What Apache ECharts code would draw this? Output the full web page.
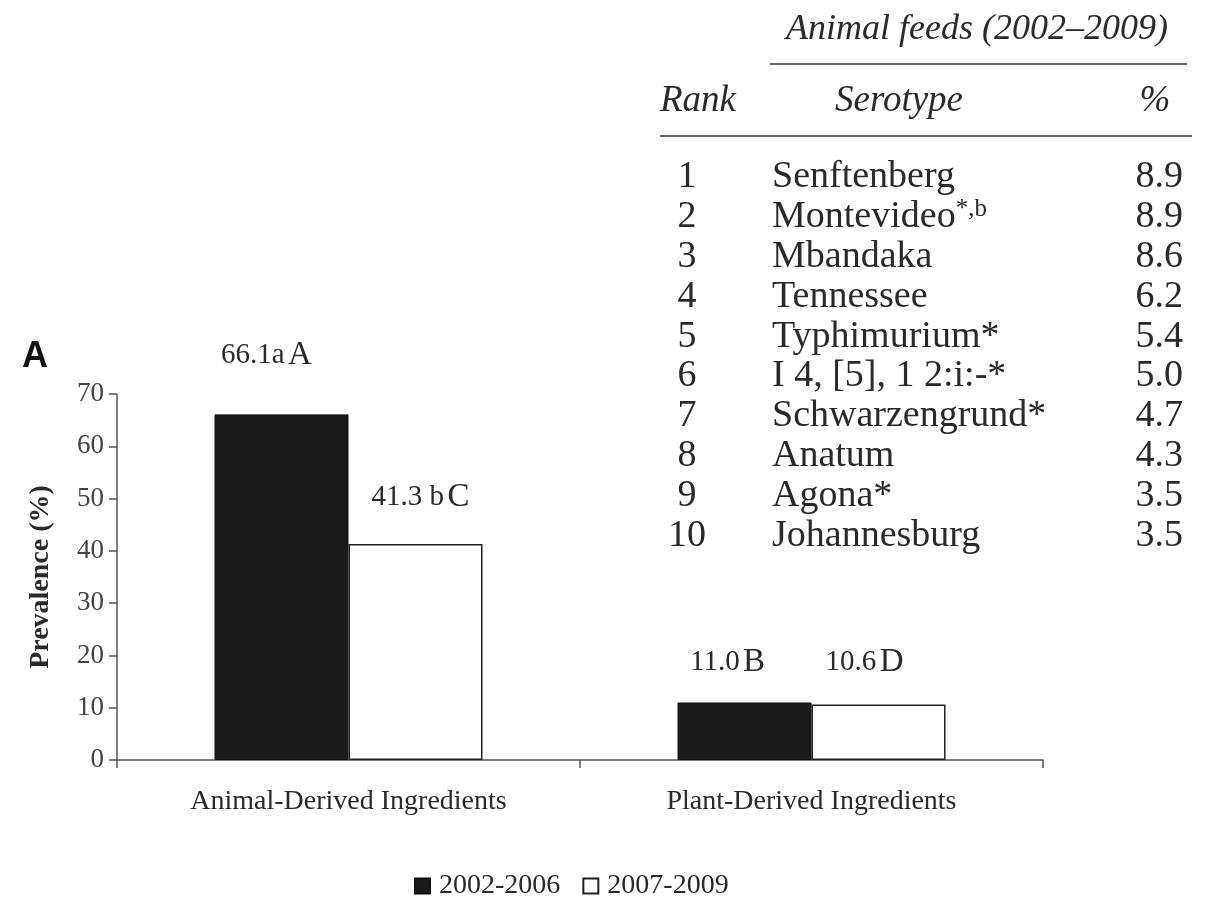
<!DOCTYPE html>
<html>
<head>
<meta charset="utf-8">
<script src="https://cdn.jsdelivr.net/npm/echarts@6/dist/echarts.min.js"></script>
<style>
  html, body { margin: 0; padding: 0; background: #fff; }
  #chart { width: 1205px; height: 897px; }
</style>
</head>
<body>
<div id="chart"></div>
<script>
// Bar chart data
const categories = ['Animal-Derived Ingredients', 'Plant-Derived Ingredients'];
const seriesNames = ['2002-2006', '2007-2009'];
const prevalenceEarly = [66.1, 11.0];
const prevalenceLate = [41.3, 10.6];
const labelsEarly = [['66.1a', 'A'], ['11.0', 'B']];
const labelsLate = [['41.3 b', 'C'], ['10.6', 'D']];

// Table data
const ranks = ['1', '2', '3', '4', '5', '6', '7', '8', '9', '10'];
const serotypes = ['Senftenberg', 'Montevideo', 'Mbandaka', 'Tennessee', 'Typhimurium*',
  'I 4, [5], 1 2:i:-*', 'Schwarzengrund*', 'Anatum', 'Agona*', 'Johannesburg'];
const serotypeSup = ['', '*,b', '', '', '', '', '', '', '', ''];
const percents = ['8.9', '8.9', '8.6', '6.2', '5.4', '5.0', '4.7', '4.3', '3.5', '3.5'];

const serif = '"Liberation Serif", "Times New Roman", serif';
const textColor = '#2a2a2a';

// label placement tweaks per bar (distance above bar, x offset)
const earlyLabelPos = [{distance: 44, dx: -15}, {distance: 25, dx: -17}];
const lateLabelPos = [{distance: 32, dx: 5}, {distance: 27, dx: -14}];

function buildBarData(values, labels, pos) {
  return values.map((v, i) => ({
    value: v,
    label: {
      distance: pos[i].distance,
      offset: [pos[i].dx, 0],
      formatter: '{n|' + labels[i][0] + '} {c|' + labels[i][1] + '}'
    }
  }));
}

const barLabel = {
  show: true,
  position: 'top',
  rich: {
    n: {fontFamily: serif, fontSize: 29, color: textColor, lineHeight: 30},
    c: {fontFamily: serif, fontSize: 33, color: textColor, lineHeight: 30}
  }
};

// table graphic
function buildTable() {
  const els = [];
  const rowFont = '38px ' + serif;
  els.push({
    type: 'text', left: 786, top: 12,
    style: {text: 'Animal feeds (2002\u20132009)', font: 'italic 36px ' + serif, fill: textColor}
  });
  els.push({
    type: 'line', shape: {x1: 770, y1: 64, x2: 1187, y2: 64},
    style: {stroke: '#333', lineWidth: 1.5}
  });
  els.push({
    type: 'text', x: 660, y: 101,
    style: {text: 'Rank', font: 'italic 37px ' + serif, fill: textColor, verticalAlign: 'middle'}
  });
  els.push({
    type: 'text', x: 899, y: 101,
    style: {text: 'Serotype', font: 'italic 37px ' + serif, fill: textColor, align: 'center', verticalAlign: 'middle'}
  });
  els.push({
    type: 'text', x: 1155, y: 101,
    style: {text: '%', font: 'italic 37px ' + serif, fill: textColor, align: 'center', verticalAlign: 'middle'}
  });
  els.push({
    type: 'line', shape: {x1: 660, y1: 136, x2: 1192, y2: 136},
    style: {stroke: '#333', lineWidth: 1.5}
  });
  ranks.forEach((r, i) => {
    const y = 177 + 39.9 * i;
    els.push({
      type: 'text', x: 687, y: y,
      style: {text: r, font: rowFont, fill: textColor, align: 'center', verticalAlign: 'middle'}
    });
    els.push({
      type: 'text', x: 772, y: y,
      style: {
        text: '{m|' + serotypes[i] + '}' + (serotypeSup[i] ? '{s|' + serotypeSup[i] + '}' : ''),
        fill: textColor, verticalAlign: 'middle',
        rich: {
          m: {fontFamily: serif, fontSize: 38, fill: textColor, lineHeight: 40},
          s: {fontFamily: serif, fontSize: 25, fill: textColor, lineHeight: 40, verticalAlign: 'top', padding: [0, 0, 14, 0]}
        }
      }
    });
    els.push({
      type: 'text', x: 1183, y: y,
      style: {text: percents[i], font: rowFont, fill: textColor, align: 'right', verticalAlign: 'middle'}
    });
  });
  // panel letter
  els.push({
    type: 'text', x: 35, y: 357,
    style: {text: 'A', font: 'bold 36px "Liberation Sans", Arial, sans-serif', fill: '#111', align: 'center', verticalAlign: 'middle'}
  });
  return els;
}

const chart = echarts.init(document.getElementById('chart'));

const option = {
  backgroundColor: '#fff',
  animation: false,
  grid: {left: 117, right: 162, top: 394, bottom: 137},
  legend: {
    left: 412,
    top: 870,
    padding: 2,
    itemWidth: 15,
    itemHeight: 15,
    itemGap: 22,
    icon: 'rect',
    textStyle: {fontFamily: serif, fontSize: 28, color: textColor, padding: [0, 0, 0, 4]},
    data: seriesNames
  },
  xAxis: {
    type: 'category',
    data: categories,
    axisLine: {lineStyle: {color: '#555', width: 1.5}},
    axisTick: {show: true, length: 8, lineStyle: {color: '#555', width: 1.5}},
    axisLabel: {fontFamily: serif, fontSize: 28, color: textColor, margin: 28}
  },
  yAxis: {
    type: 'value',
    min: 0,
    max: 70,
    interval: 10,
    name: 'Prevalence (%)',
    nameLocation: 'middle',
    nameGap: 62,
    nameTextStyle: {fontFamily: serif, fontSize: 28, fontWeight: 'bold', color: textColor},
    splitLine: {show: false},
    axisLine: {show: true, lineStyle: {color: '#555', width: 1.5}},
    axisTick: {show: true, length: 8, lineStyle: {color: '#555', width: 1.5}},
    axisLabel: {fontFamily: serif, fontSize: 27, color: '#444', margin: 13}
  },
  series: [
    {
      name: seriesNames[0],
      type: 'bar',
      barWidth: 134,
      barGap: '0%',
      itemStyle: {color: '#1c1a1b', borderColor: '#111', borderWidth: 1},
      label: barLabel,
      data: buildBarData(prevalenceEarly, labelsEarly, earlyLabelPos)
    },
    {
      name: seriesNames[1],
      type: 'bar',
      barWidth: 134,
      barGap: '0%',
      itemStyle: {color: '#fff', borderColor: '#222', borderWidth: 1.5},
      label: barLabel,
      data: buildBarData(prevalenceLate, labelsLate, lateLabelPos)
    }
  ],
  graphic: buildTable()
};

chart.setOption(option);
</script>
</body>
</html>
